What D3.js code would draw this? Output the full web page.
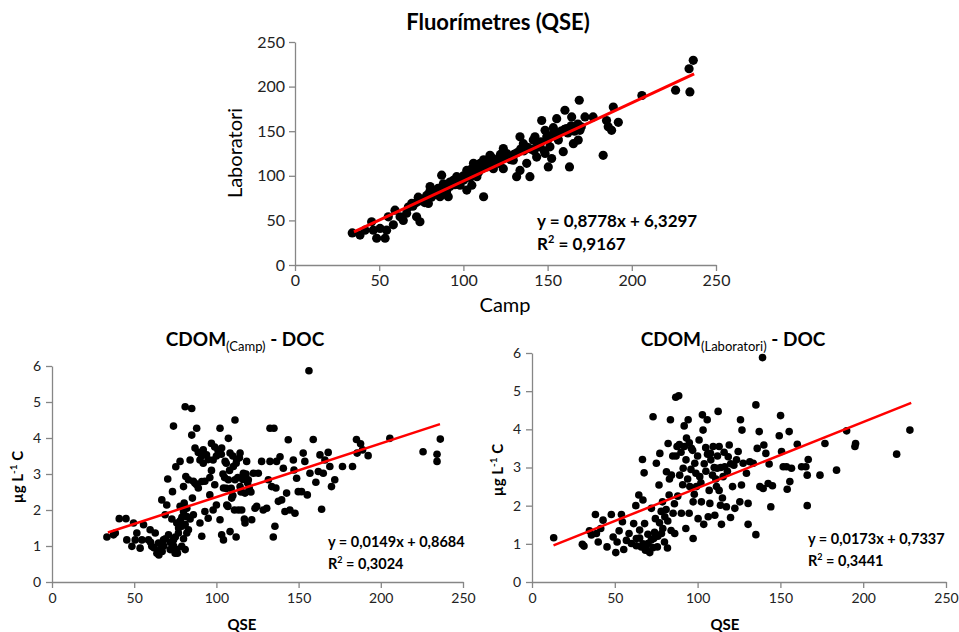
<!DOCTYPE html>
<html><head><meta charset="utf-8">
<script src="https://cdn.jsdelivr.net/npm/d3@7"></script>
<style>body{margin:0;background:#fff}svg{display:block}text{font-family:Lato,"Open Sans",sans-serif}</style>
</head><body>
<svg id="c" width="959" height="632"></svg>
<script>
// ---- Data ----
const topTicks = [0, 50, 100, 150, 200, 250];
const botXTicks = [0, 50, 100, 150, 200, 250];
const botYTicks = [0, 1, 2, 3, 4, 5, 6];

// Top panel: Camp (x) vs Laboratori (y)
const topCamp = [34,38.6,41.6,45.5,46.5,48.5,50.5,53.5,54.4,55.4,58.4,59.4,62.4,64.3,66.3,67.3,69.3,72.2,74.2,73.2,76.2,78.2,79.2,80.2,82.1,84.1,86.1,87.1,88.1,90,91,92,94,96,98,100,102,102,104,105,106,108,110,112,112,113.8,115.8,117.8,119.7,121.7,123.7,123.7,125.7,129.6,131.6,133.6,133.6,135.6,137.6,139.5,141.5,142.5,143.5,145.5,146.5,148.5,148.5,149.5,150.4,151.4,152.4,153.4,155.4,156.4,159.3,160.3,161.3,163,164.3,165.3,166.3,168.2,168.8,169.2,172.2,177,183,185,186,188,189,192,206,226,234,234.5,236.5,
70,72,74,76,77,78,80,81,83,85,86,88,89,90,92,93,95,96,97,99,100,101,103,104,105,106,107,108,109,110,111,112,113,114,115,116,117,118,120,121,122,124,126,128,130,132,134,136,138,140,142,144,146,148,150,152,154,156,158,160,162,164,166,168,170];
const topLab = [36,33.6,39,48.5,39,30,41,30,39,54,45,61.5,54,50,58,65,69,54,48.5,76,73,78,69,88,80,84,76.5,100.7,91,82,76.5,93,95,99,89.5,95,106,84,102.6,89.5,114,99,110,76.5,118,110,123,108,117.5,121,130.6,108,125,117.5,99,143.7,106,136,114,99,140,143.7,121,132.5,162,151,125,143.7,110,132.5,119.4,154,164,140,127,173.5,153,110,166,136,155,140,184.7,151,166,166,123,162,155,151,177,160,190,196,220,194,229.5,
66,70,72,74,70,75,82,76,79,86,80,84,88,86,88,92,90,94,93,96,100,97,104,98,108,102,105,110,104,114,108,112,116,113,118,114,120,116,118,114,124,120,122,118,124,126,130,128,132,130,128,135,138,128,140,145,150,142,150,152,148,156,150,158,155];

// Bottom-left: QSE (Camp) vs DOC
const campQSE = [33.4,37.4,38.5,40.9,45,45.5,48.6,49.6,50.6,51.6,53.6,54.7,55.7,58.7,59.7,60.7,62.8,63.8,64.8,65.8,66.8,67.8,68.8,69.8,70.4,70.9,71.9,72.9,73.3,73.9,73.9,74.9,75.3,75.9,76.3,76.9,77.9,77.9,78.9,78.9,80,80.4,81,81,81.4,82,82,83,84,85,85,85.4,86,87,87,88,89,90,90,91.1,91.1,92,93,94,95,96,97,98,98,99,100,102.2,102.2,103.2,103.2,104.3,104.3,105.3,106.3,107.3,107.3,108.3,108.3,109.3,110.3,111.3,111.3,112,112.3,113.4,114.4,114.4,115.4,116.4,117.4,117.4,118.4,119.4,121.5,122.5,123.5,124.5,125.5,127.5,128.5,130.6,131.6,132.6,132.6,133.6,134.6,135,135.6,136.2,136.6,137.7,138.7,139.7,140.7,141.7,142.7,143.7,144.7,146.8,147.2,147.8,148.8,149.8,151.8,152.8,153.8,155.3,156.3,156.9,158.9,160.5,162,163,164,165,166,168,169,170,172,176.7,182.8,185.2,185.6,187.7,188.9,192.3,205.5,225.7,234.2,234.2,236.2,
60,62,65,67,68,69,72,74,75,76,77,78,79,80,80,81,82,83,84,86,88,89,91,92,93,95,96,97,99,100,101,103,104,105,106,106,107,108,109,110,110,111,112,113,114,115,116,117,118,119,120,121];
const campDOC = [1.25,1.31,1.36,1.76,1.76,1.17,0.99,1.64,1.17,1.36,0.94,1.17,1.59,1.17,1.45,0.99,1.36,0.8,1.08,0.9,2.28,1.17,1.87,2.14,2.86,1.31,0.9,1.75,2.51,4.33,1.17,0.8,3.2,1.64,0.8,1.36,3.35,2.1,0.99,1.55,2.65,2.19,4.87,0.9,2.93,1.82,1.36,2.84,3.39,4.82,4.08,2.33,1.87,3.72,2.74,4.27,2.61,3.39,1.64,2.79,1.27,3.67,1.96,3.53,1.77,2.42,3.85,3.39,2,2.7,2.14,4.27,1.73,1.31,3.72,1.17,2.61,3.35,2.14,3.99,2.84,1.4,3.58,2.33,3.21,4.5,2.84,1.25,3.39,2,2.65,3.58,2,3.02,1.64,2.47,3.35,2.84,1.73,3.02,2.05,2.1,3.02,3.35,2,2.05,2.84,4.27,3.35,2.65,1.25,4.27,1.55,2.61,3.35,2.24,3.48,2.28,3.16,1.96,2.47,3.95,2,3.39,3.11,1.91,2.88,2.51,2.51,3.58,3.35,2.42,5.87,3.02,3.96,2.77,3.07,3.53,2.02,3.02,3.39,3.6,3.21,2.65,2.84,3.21,3.21,3.96,3.58,3.84,3.67,3.51,3.99,3.62,3.55,3.35,3.97,
1.1,0.95,0.75,0.85,1,1.2,1.1,1,1.25,0.9,1.5,1.7,1.8,1.95,1.2,1.6,2.05,1.45,1.75,2.8,2.7,3.6,3.5,3.3,2.8,3.4,2.9,3.1,3.75,3.5,3.65,3.55,3,2.9,2.6,3.3,2.1,3.1,2.6,2.4,3.5,2,3.3,2.9,3.45,2.5,2.85,1.75,3,2.75,2.6,2.5];

// Bottom-right: QSE (Laboratori) vs DOC
const labQSE = [13.1,30.4,31.4,34.7,35.9,38.3,38.9,40,41.5,42.9,45.3,47.9,49,50.6,51.4,52.6,54,54.6,55.4,57,58.6,60,61.4,62.7,63,64.5,65,66,66.7,67,67.7,68,68.5,70,71.1,72.1,73.1,73.5,74.5,75.1,75.7,76.7,77.2,78.2,78.8,80.2,81.2,81.8,82.2,82.8,83.6,84.2,85.2,86.2,86.8,87.6,88.6,89.2,90.2,91.3,91.9,92.9,93.3,94.3,94.9,95.3,96.3,97.3,97.3,98.3,99.3,100.3,100.9,101.3,102.3,102.9,103.3,103.7,104.9,105.8,106.4,107.4,107.8,109,109.4,110.4,111.4,111.8,112.4,113,113.8,114.4,115.4,116.4,117.4,118.5,119.1,119.9,121.1,121.9,122.5,123.5,124.5,125.5,125.9,126.5,126.8,127.5,129.5,130.5,130.5,131.5,133.6,135.2,135.2,136,137.2,137.6,139.6,140,139.2,141.2,142.6,143.2,144.2,145.2,149.3,150.1,150.7,151.7,153.7,154.1,155.3,155.7,156.7,160.2,162.8,165.4,166.2,166.2,166.8,173.9,176.9,183.9,190,195,195.4,220.2,228.2,
63,65,67,69,70,72,73,74,76,77,78,79,80,81,82,83,84,85,86,87,88,89,90,91,92,93,94,95,96,97,98,99,100,102,104,105,106,107,108,110,111,112,113,114,115,116,118,120];
const labDOC = [1.16,0.99,0.94,1.34,1.23,1.77,1.27,1.05,1.4,1.62,0.92,1.77,1.18,0.77,1.05,1.34,1.77,1.58,0.85,1.09,1.27,1.01,1.53,2,1.14,2.28,1.36,0.92,3.21,2.15,2.86,1.53,0.83,1.01,0.77,1.93,4.33,1.14,1.66,3.11,0.92,2.54,3.37,1.27,2.1,1.71,2.89,0.89,3.63,2.28,4.25,2.8,1.8,1.27,4.84,3.55,4.88,2.8,1.8,2.98,4.09,1.4,3.77,4.25,1.8,2.5,3.5,2.1,1.14,3.11,2.5,1.66,3.72,2.76,2.1,4.38,3.98,1.51,3.52,4.25,1.71,2.06,3.37,2.8,3.55,1.75,2.5,2.98,4.47,3.55,2.01,1.51,2.76,3.02,1.97,3.28,3.59,1.69,2.5,3.06,1.93,3.2,3.42,2.1,4.25,2.54,3.98,3.11,2.85,2.06,1.51,3.15,3.11,4.64,1.24,3.5,3.94,2.5,2.45,3.59,5.88,3.37,2.58,3.09,1.97,2.52,3.83,4.36,3.42,3.02,3.02,2.43,3.94,2.63,2.98,3.61,3.02,3.02,2,2.8,3.21,2.8,3.63,2.93,3.96,3.55,3.63,3.35,3.98,
0.95,1.15,1,0.85,1.25,1.1,0.9,1.3,1.2,1.55,1.85,1.4,1.05,1.9,1.6,2.7,1.35,3.3,2.05,3.3,2.25,3.6,3.4,2.55,3.55,3.2,2.7,3.65,2.95,3.45,2.3,2.85,3.3,2.6,3.1,2.9,3.35,2.4,3.2,3,2.7,3.3,2.4,3,2.2,3.4,2.9,3.1];

const svg = d3.select("#c");

function panel(o) {
  const x = d3.scaleLinear().domain([0, 250]).range(o.xr);
  const y = d3.scaleLinear().domain(o.yd).range(o.yr);
  const g = svg.append("g");
  const ax = g.append("g").attr("transform", `translate(0,${o.yr[0]})`)
    .call(d3.axisBottom(x).tickValues(o.xt).tickFormat(d3.format("d")).tickSize(6).tickSizeOuter(0).tickPadding(o.tp));
  const ay = g.append("g").attr("transform", `translate(${o.xr[0]},0)`)
    .call(d3.axisLeft(y).tickValues(o.yt).tickFormat(d3.format("d")).tickSize(6).tickSizeOuter(0).tickPadding(o.tp));
  [ax, ay].forEach(a => {
    a.selectAll("path,line").attr("stroke", "#868686").attr("stroke-width", 1.3);
    a.selectAll("text").attr("font-size", o.tfs).attr("fill", "#222").attr("font-family", "Lato");
  });
  g.selectAll("circle.d").data(o.xs).enter().append("circle")
    .attr("cx", d => x(d)).attr("cy", (d, i) => y(o.ys[i])).attr("r", o.r).attr("fill", "#000");
  g.append("line").attr("x1", x(o.fx[0])).attr("x2", x(o.fx[1]))
    .attr("y1", y(o.m * o.fx[0] + o.b)).attr("y2", y(o.m * o.fx[1] + o.b))
    .attr("stroke", "#ff0000").attr("stroke-width", o.lw);
  return {x, y, g};
}

// Top
panel({xr: [295, 716], yr: [265, 42], yd: [0, 250], xt: topTicks, yt: topTicks, tp: 4, tfs: 16,
  xs: topCamp, ys: topLab, r: 4.6, fx: [35, 237], m: 0.8778, b: 6.3297, lw: 3});
svg.append("text").attr("x", 498).attr("y", 30).attr("text-anchor", "middle").attr("font-size", 22).attr("font-weight", "bold").text("Fluorímetres (QSE)");
svg.append("text").attr("transform", "translate(242,153) rotate(-90)").attr("text-anchor", "middle").attr("font-size", 20).text("Laboratori");
svg.append("text").attr("x", 505).attr("y", 312).attr("text-anchor", "middle").attr("font-size", 20).text("Camp");
svg.append("text").attr("x", 537).attr("y", 227).attr("font-size", 17).attr("font-weight", "bold").text("y = 0,8778x + 6,3297");
const r1 = svg.append("text").attr("x", 537).attr("y", 250).attr("font-size", 17).attr("font-weight", "bold");
r1.append("tspan").text("R");
r1.append("tspan").attr("font-size", 11).attr("dy", -7).text("2");
r1.append("tspan").attr("dy", 7).text(" = 0,9167");

function bottomText(cx, sub, ylx, yly, qx, ex, ey, eq, r2) {
  const t = svg.append("text").attr("x", cx).attr("y", 346).attr("text-anchor", "middle").attr("font-size", 19).attr("font-weight", "bold");
  t.append("tspan").text("CDOM");
  t.append("tspan").attr("font-size", 13).attr("font-weight", "normal").attr("dy", 5).text(sub);
  t.append("tspan").attr("dy", -5).text(" - DOC");
  const yl = svg.append("text").attr("transform", `translate(${ylx},${yly}) rotate(-90)`).attr("text-anchor", "middle").attr("font-size", 15).attr("font-weight", "bold");
  yl.append("tspan").text("µg L");
  yl.append("tspan").attr("font-size", 10).attr("dy", -6).text("-1");
  yl.append("tspan").attr("dy", 6).text(" C");
  svg.append("text").attr("x", qx).attr("y", 630).attr("text-anchor", "middle").attr("font-size", 15).attr("font-weight", "bold").text("QSE");
  svg.append("text").attr("x", ex).attr("y", ey).attr("font-size", 14.5).attr("font-weight", "bold").text(eq);
  const rr = svg.append("text").attr("x", ex).attr("y", ey + 22).attr("font-size", 14.5).attr("font-weight", "bold");
  rr.append("tspan").text("R");
  rr.append("tspan").attr("font-size", 9).attr("dy", -6).text("2");
  rr.append("tspan").attr("dy", 6).text(" = " + r2);
}

// Bottom-left
panel({xr: [52, 463], yr: [582, 366], yd: [0, 6], xt: botXTicks, yt: botYTicks, tp: 5, tfs: 14,
  xs: campQSE, ys: campDOC, r: 3.8, fx: [34, 236], m: 0.0149, b: 0.8684, lw: 2.5});
bottomText(245, "(Camp)", 23, 477, 242, 328, 547, "y = 0,0149x + 0,8684", "0,3024");

// Bottom-right
panel({xr: [532, 946], yr: [582, 353], yd: [0, 6], xt: botXTicks, yt: botYTicks, tp: 5, tfs: 14,
  xs: labQSE, ys: labDOC, r: 3.8, fx: [13, 229], m: 0.0173, b: 0.7337, lw: 2.5});
bottomText(733, "(Laboratori)", 503, 470, 725, 808, 544, "y = 0,0173x + 0,7337", "0,3441");
</script>
</body></html>
